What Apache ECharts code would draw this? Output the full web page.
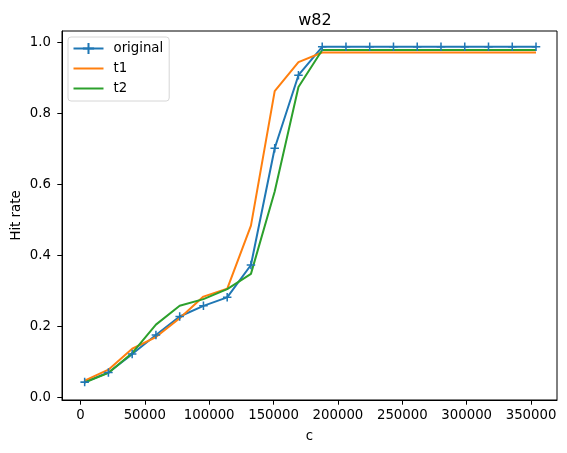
<!DOCTYPE html>
<html>
<head>
<meta charset="utf-8">
<script src="https://cdn.jsdelivr.net/npm/echarts@6/dist/echarts.min.js"></script>
<style>
  html, body { margin: 0; padding: 0; background: #fff; }
  #plot { width: 567px; height: 453px; }
</style>
</head>
<body>
<div id="plot"></div>
<script>
// cache size c
var cValues = [3300, 21750, 40200, 58650, 77100, 95550, 114000, 132450, 150900, 169350,
  187800, 206250, 224700, 243150, 261600, 280050, 298500, 316950, 335400, 353850];

// hit rates
var original = [0.043, 0.070, 0.122, 0.176, 0.228, 0.258, 0.282, 0.373, 0.702, 0.908,
  0.988, 0.988, 0.988, 0.988, 0.988, 0.988, 0.988, 0.988, 0.988, 0.988];
var t1 = [0.047, 0.078, 0.137, 0.170, 0.223, 0.284, 0.306, 0.484, 0.863, 0.945,
  0.972, 0.972, 0.972, 0.972, 0.972, 0.972, 0.972, 0.972, 0.972, 0.972];
var t2 = [0.042, 0.069, 0.125, 0.205, 0.258, 0.277, 0.305, 0.348, 0.580, 0.875,
  0.979, 0.979, 0.979, 0.979, 0.979, 0.979, 0.979, 0.979, 0.979, 0.979];

var xTicks = [0, 50000, 100000, 150000, 200000, 250000, 300000, 350000];
var yTicks = [0, 0.2, 0.4, 0.6, 0.8, 1.0];

var seriesNames = ['original', 't1', 't2'];
var colors = ['#1f77b4', '#ff7f0e', '#2ca02c'];

var font = 'DejaVu Sans';
var fs = 13.3;
var plusPath = 'path://M0,4.1H10V5.9H0ZM4.1,0H5.9V10H4.1Z';

function pairs(ys) {
  return cValues.map(function (c, i) { return [c, ys[i]]; });
}

var myChart = echarts.init(document.getElementById('plot'));

var option = {
  animation: false,
  title: {
    text: 'w82',
    left: 310,
    top: 8,
    textAlign: 'center',
    textStyle: { fontFamily: font, fontSize: 16, fontWeight: 'normal', color: '#000' }
  },
  grid: {
    left: 62, right: 10, top: 31, bottom: 53,
    outerBoundsMode: 'none', containLabel: false,
    show: true, borderColor: '#000', borderWidth: 1
  },
  legend: {
    orient: 'vertical',
    left: 68, top: 37,
    padding: [5, 6, 6, 4.5],
    itemWidth: 30, itemHeight: 14, itemGap: 7,
    borderColor: '#d6d6d6', borderWidth: 1, borderRadius: 3,
    backgroundColor: 'rgba(255,255,255,0.8)',
    textStyle: { fontFamily: font, fontSize: fs, color: '#000', padding: [0, 0, 0, 5] },
    data: [
      { name: seriesNames[0] },
      { name: seriesNames[1], itemStyle: { opacity: 0 } },
      { name: seriesNames[2], itemStyle: { opacity: 0 } }
    ]
  },
  xAxis: {
    type: 'value',
    min: -14300, max: 370150,
    name: 'c', nameLocation: 'middle', nameGap: 30, nameMoveOverlap: false,
    nameTextStyle: { fontFamily: font, fontSize: fs, color: '#000' },
    splitLine: { show: false },
    axisLine: { show: true, onZero: false, lineStyle: { color: '#000', width: 1 } },
    axisTick: { show: true, customValues: xTicks, length: 4.7, lineStyle: { color: '#000' } },
    axisLabel: {
      customValues: xTicks, margin: 9,
      fontFamily: font, fontSize: fs, color: '#000',
      formatter: function (v) { return String(v); }
    }
  },
  yAxis: {
    type: 'value',
    min: -0.0074, max: 1.0326,
    name: 'Hit rate', nameLocation: 'middle', nameGap: 39, nameRotate: 90, nameMoveOverlap: false,
    nameTextStyle: { fontFamily: font, fontSize: fs, color: '#000' },
    splitLine: { show: false },
    axisLine: { show: true, onZero: false, lineStyle: { color: '#000', width: 1 } },
    axisTick: { show: true, customValues: yTicks, length: 4.7, lineStyle: { color: '#000' } },
    axisLabel: {
      customValues: yTicks, margin: 11,
      fontFamily: font, fontSize: fs, color: '#000',
      formatter: function (v) { return v.toFixed(1); }
    }
  },
  series: [
    {
      name: seriesNames[0], type: 'line', data: pairs(original),
      symbol: plusPath, symbolSize: 8.5, showSymbol: true,
      lineStyle: { color: colors[0], width: 2 },
      itemStyle: { color: colors[0] }
    },
    {
      name: seriesNames[1], type: 'line', data: pairs(t1),
      symbol: 'none', showSymbol: false,
      lineStyle: { color: colors[1], width: 2 },
      itemStyle: { color: colors[1] }
    },
    {
      name: seriesNames[2], type: 'line', data: pairs(t2),
      symbol: 'none', showSymbol: false,
      lineStyle: { color: colors[2], width: 2 },
      itemStyle: { color: colors[2] }
    }
  ]
};

myChart.setOption(option);
</script>
</body>
</html>
